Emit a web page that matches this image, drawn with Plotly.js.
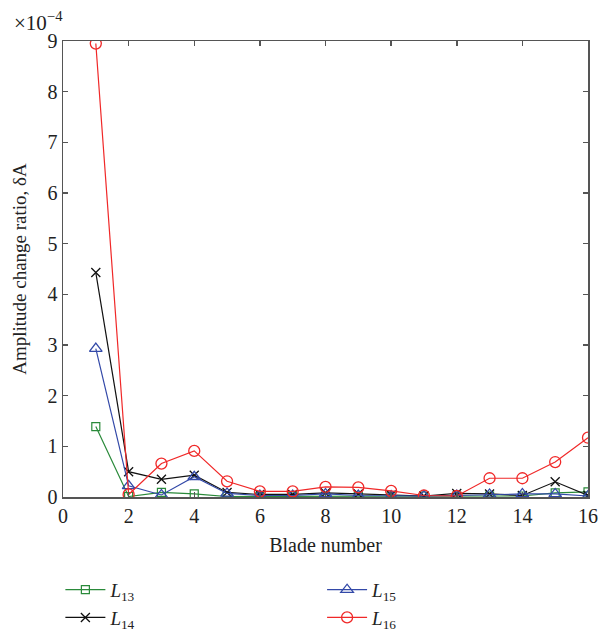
<!DOCTYPE html>
<html>
<head>
<meta charset="utf-8">
<script src="https://cdn.plot.ly/plotly-3.0.1.min.js"></script>
<style>html,body{margin:0;padding:0;background:#fff;}#chart{width:599px;height:635px;}</style>
</head>
<body>
<div id="chart"></div>
<script>
// Blade numbers
const blades = [1,2,3,4,5,6,7,8,9,10,11,12,13,14,15,16];
// Amplitude change ratio values, in units of 1e-4
const L13 = [1.39,0.01,0.09,0.06,0.01,0.01,0.02,0.02,0.02,0.02,0.02,0.02,0.02,0.02,0.08,0.10];
const L14 = [4.43,0.50,0.35,0.43,0.09,0.05,0.05,0.08,0.06,0.04,0.02,0.07,0.06,0.03,0.30,0.03];
const L15 = [2.93,0.22,0.04,0.40,0.07,0.03,0.03,0.06,0.03,0.02,0.02,0.03,0.05,0.06,0.06,0.02];
const L16 = [8.95,0.05,0.66,0.91,0.31,0.11,0.11,0.20,0.19,0.12,0.03,0.02,0.37,0.37,0.69,1.17];
const names = ['<i>L</i><sub>13</sub>','<i>L</i><sub>14</sub>','<i>L</i><sub>15</sub>','<i>L</i><sub>16</sub>'];
const xTicks = [0,2,4,6,8,10,12,14,16];
const yTicks = [0,1,2,3,4,5,6,7,8,9];

const FONT = 'Liberation Serif, Times New Roman, serif';
const traces = [
  {x: blades, y: L13, name: names[0], legend: 'legend', mode: 'lines+markers',
   line: {color: '#2a8a3a', width: 1.2}, marker: {symbol: 'square-open', size: 8, color: '#2a8a3a', line: {width: 1.2}}},
  {x: blades, y: L14, name: names[1], legend: 'legend', mode: 'lines+markers',
   line: {color: '#111111', width: 1.2}, marker: {symbol: 'x-thin-open', size: 9, color: '#111111', line: {width: 1.3, color: '#111111'}}},
  {x: blades, y: L15, name: names[2], legend: 'legend2', mode: 'lines+markers',
   line: {color: '#3349a8', width: 1.2}, marker: {symbol: 'triangle-up-open', size: 11, color: '#3349a8', line: {width: 1.3}}},
  {x: blades, y: L16, name: names[3], legend: 'legend2', mode: 'lines+markers',
   line: {color: '#f02828', width: 1.2}, marker: {symbol: 'circle-open', size: 11, color: '#f02828', line: {width: 1.3}}}
];

const axisCommon = {
  showgrid: false, zeroline: false, showline: true, mirror: 'ticks',
  linecolor: '#555555', linewidth: 1.5, ticks: 'inside', ticklen: 5,
  tickcolor: '#555555', tickwidth: 1.5,
  tickfont: {family: FONT, size: 20, color: '#222'}
};

const legendCommon = {xanchor: 'left', y: -0.162, yanchor: 'top', orientation: 'v',
  font: {family: FONT, size: 19, color: '#222'}, bgcolor: 'rgba(0,0,0,0)', tracegroupgap: 0, itemwidth: 40};

const layout = {
  width: 599, height: 635,
  margin: {l: 63, r: 11, t: 41, b: 138, autoexpand: false},
  paper_bgcolor: '#fff', plot_bgcolor: '#fff',
  font: {family: FONT, color: '#222'},
  xaxis: Object.assign({}, axisCommon, {
    range: [0, 16], tickvals: xTicks, ticktext: xTicks.map(String),
    title: {text: 'Blade number', font: {family: FONT, size: 20, color: '#222'}, standoff: 12}
  }),
  yaxis: Object.assign({}, axisCommon, {
    range: [0, 9], tickvals: yTicks, ticktext: yTicks.map(String),
    title: {text: 'Amplitude change ratio, δA', font: {family: FONT, size: 19, color: '#222'}, standoff: 16}
  }),
  legend: Object.assign({}, legendCommon, {x: -0.005}),
  legend2: Object.assign({}, legendCommon, {x: 0.4935}),
  annotations: [{
    text: '×10<sup>−4</sup>', xref: 'paper', yref: 'paper', x: -0.097, y: 1.008,
    xanchor: 'left', yanchor: 'bottom', showarrow: false,
    font: {family: FONT, size: 21, color: '#222'}
  }]
};

Plotly.newPlot('chart', traces, layout, {displayModeBar: false, staticPlot: true});
</script>
</body>
</html>
